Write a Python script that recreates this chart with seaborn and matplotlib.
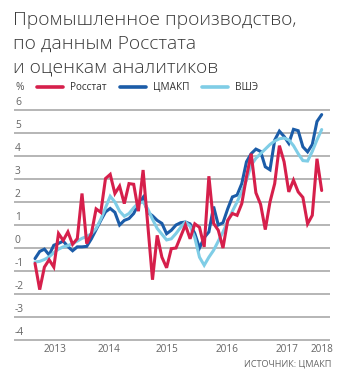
import matplotlib
matplotlib.use("Agg")
import matplotlib.pyplot as plt
import pandas as pd
import seaborn as sns
from matplotlib.lines import Line2D

# ---- data ----
rosstat = [-0.67, -1.81, -0.83, -0.51, -0.83, 0.63, 0.33, 0.70, 0.16, 0.41,
           2.37, 0.19, 0.63, 1.70, 1.55, 3.02, 3.20, 2.37, 2.69, 1.93,
           2.80, 2.77, 1.60, 3.39, 1.00, -1.38, 0.55, -0.40, -0.86, -0.03,
           0.00, 0.50, 1.00, 0.40, 1.05, 0.90, 0.05, 3.12, 1.07, 0.77,
           0.00, 1.20, 1.50, 1.42, 1.93, 3.10, 4.10, 2.40, 1.90, 0.80,
           2.00, 2.80, 4.45, 3.75, 2.44, 2.95, 2.44, 2.20, 1.05, 1.42,
           3.88, 2.50]
cmakp = [-0.46, -0.15, -0.05, -0.30, 0.12, 0.20, 0.30, 0.06, -0.12, 0.05,
         0.05, 0.07, 0.40, 0.80, 1.20, 1.57, 1.72, 1.55, 1.00, 1.20,
         1.28, 1.50, 1.90, 2.20, 1.55, 1.40, 1.20, 1.07, 0.62, 0.77,
         1.00, 1.10, 1.13, 1.05, 0.63, 0.00, 0.45, 0.70, 1.80, 1.00,
         1.10, 1.70, 2.22, 2.30, 2.80, 3.75, 4.10, 4.30, 4.20, 3.53,
         3.40, 4.69, 5.08, 4.85, 4.55, 5.16, 5.10, 4.40, 4.18, 4.50,
         5.50, 5.80]
hse = [-0.61, -0.58, -0.50, -0.39, -0.20, -0.05, 0.05, 0.10, 0.20, 0.30,
       0.42, 0.50, 0.62, 0.85, 1.25, 1.75, 2.25, 2.00, 1.60, 1.38,
       1.50, 1.75, 1.95, 2.00, 1.70, 1.25, 0.85, 0.60, 0.35, 0.40,
       0.63, 0.90, 1.13, 0.95, 0.45, -0.40, -0.75, -0.40, -0.10, 0.30,
       0.70, 1.15, 1.60, 2.00, 2.45, 2.95, 3.60, 3.90, 4.10, 4.30,
       4.50, 4.65, 4.75, 4.78, 4.70, 4.45, 4.10, 3.80, 3.78, 4.20,
       4.70, 5.15]
series_names = ["Росстат", "ЦМАКП", "ВШЭ"]
year_labels = ["2013", "2014", "2015", "2016", "2017", "2018"]
year_pos = [4.26, 15.7, 28.1, 40.9, 53.55, 61.0]
y_ticks = [6, 5, 4, 3, 2, 1, 0, -1, -2, -3, -4]
title_lines = ["Промышленное производство,", "по данным Росстата", "и оценкам аналитиков"]
source_text = "ИСТОЧНИК: ЦМАКП"

n = len(rosstat)
months = list(range(n))
df = pd.DataFrame({
    "month": months * 3,
    "value": rosstat + cmakp + hse,
    "series": [series_names[0]] * n + [series_names[1]] * n + [series_names[2]] * n,
})
colors = {"Росстат": "#d61f4b", "ЦМАКП": "#1b5ca8", "ВШЭ": "#7fcde6"}

sns.set_theme(style="white")
plt.rcParams["font.family"] = ["Open Sans", "DejaVu Sans"]

W, H = 346, 380
fig = plt.figure(figsize=(W / 100, H / 100), dpi=100)
fig.patch.set_facecolor("white")

ax_left, ax_right = 14, 330
ax_top, ax_bot = 103.1, 342.3
ax = fig.add_axes([ax_left / W, 1 - ax_bot / H, (ax_right - ax_left) / W, (ax_bot - ax_top) / H])
ax.set_facecolor("white")

for s in ["ЦМАКП", "ВШЭ", "Росстат"]:
    sns.lineplot(data=df[df.series == s], x="month", y="value", color=colors[s],
                 linewidth=2.2, ax=ax, legend=False, solid_joinstyle="miter")

ax.set_xlim(-4.47, 62.77)
ax.set_ylim(-4.1, 6.3)
ax.set_yticks(y_ticks)
ax.set_yticklabels([])
ax.tick_params(axis="y", length=0)
ax.grid(axis="y", color="#b0b0b0", linewidth=1.3)
ax.grid(axis="x", visible=False)
ax.set_axisbelow(True)
for sp in ax.spines.values():
    sp.set_visible(False)
ax.set_xlabel("")
ax.set_ylabel("")
ax.set_xticks(year_pos)
ax.set_xticklabels(year_labels, fontsize=7.2, color="#666666")
ax.tick_params(axis="x", length=0, pad=1.5)

ytr = ax.get_yaxis_transform()
for v in y_ticks:
    ax.text(0.003, v + 0.08, str(v), transform=ytr, ha="left", va="bottom",
            fontsize=7.4, color="#666666")

# title
for i, line in enumerate(title_lines):
    fig.text(13 / W, 1 - (25 + 23.8 * i) / H, line, ha="left", va="baseline",
             fontsize=13.9, fontweight="light", color="#3a3a3a")

# legend
handles = [Line2D([], [], color=colors[s], linewidth=2.6) for s in series_names]
leg = ax.legend(handles, series_names, loc="center left",
                bbox_to_anchor=(37 / W, 1 - 88 / H), bbox_transform=fig.transFigure,
                ncol=3, frameon=False, handlelength=2.6, handletextpad=0.7,
                columnspacing=1.3, fontsize=7.2, borderpad=0, borderaxespad=0)
for t in leg.get_texts():
    t.set_color("#333333")
fig.text(16 / W, 1 - 88 / H, "%", ha="left", va="center", fontsize=7.4, color="#555555")

fig.text(331 / W, 1 - 364 / H, source_text, ha="right", va="center", fontsize=6.6,
         color="#666666")

fig.savefig("out.png", dpi=100, facecolor="white")
